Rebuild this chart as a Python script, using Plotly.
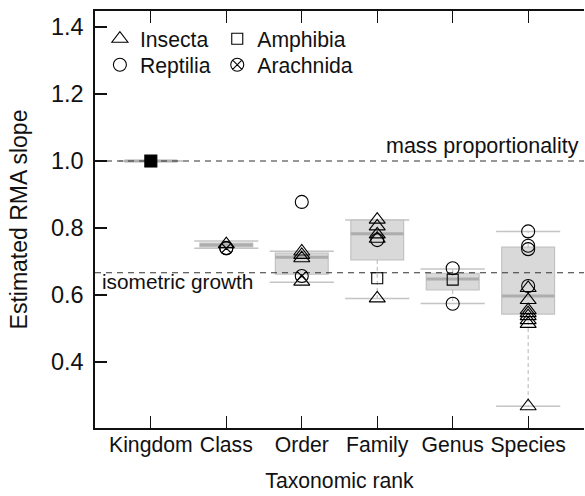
import plotly.graph_objects as go

# ---------------- data ----------------
ranks = ["Kingdom", "Class", "Order", "Family", "Genus", "Species"]

# box statistics per rank
whisker_low = [1.000, 0.740, 0.638, 0.590, 0.575, 0.268]
box_q1 = [1.000, 0.744, 0.662, 0.705, 0.615, 0.543]
box_median = [1.000, 0.749, 0.713, 0.783, 0.648, 0.597]
box_q3 = [1.000, 0.755, 0.725, 0.824, 0.665, 0.743]
whisker_high = [1.000, 0.761, 0.731, 0.824, 0.678, 0.790]

# individual estimates by class
kingdom_ranks = ["Kingdom"]
kingdom_slopes = [1.0]

insecta_ranks = ["Class", "Order", "Order", "Order", "Order",
                 "Family", "Family", "Family", "Family", "Family",
                 "Species", "Species", "Species", "Species", "Species",
                 "Species", "Species", "Species"]
insecta_slopes = [0.752, 0.730, 0.720, 0.710, 0.640,
                  0.825, 0.805, 0.781, 0.768, 0.590,
                  0.621, 0.585, 0.555, 0.546, 0.537,
                  0.525, 0.514, 0.268]

reptilia_ranks = ["Class", "Order", "Family", "Genus", "Genus",
                  "Species", "Species", "Species", "Species"]
reptilia_slopes = [0.740, 0.878, 0.764, 0.680, 0.574,
                   0.790, 0.747, 0.737, 0.627]

amphibia_ranks = ["Family", "Genus"]
amphibia_slopes = [0.650, 0.646]

arachnida_ranks = ["Class", "Order"]
arachnida_slopes = [0.740, 0.657]

ref_mass = 1.0
ref_iso = 2.0 / 3.0

# ---------------- styling ----------------
FONT = "Liberation Sans, Arial, Helvetica, sans-serif"
FS = 21.2
TXT = "#111111"
X_RANGE = [0.26, 6.74]
Y_RANGE = [0.203, 1.448]
BOX_W = 0.70
STAPLE_W = 0.85

pos = {r: i + 1 for i, r in enumerate(ranks)}
xs = [pos[r] for r in ranks]

fig = go.Figure()

# boxes
fig.add_trace(go.Box(
    x=xs, q1=box_q1, median=box_median, q3=box_q3,
    lowerfence=box_q1, upperfence=box_q3,
    width=BOX_W, whiskerwidth=0, boxpoints=False,
    fillcolor="#d9d9d9", line=dict(color="#c2c2c2", width=1.2),
    showlegend=False, hoverinfo="skip"))

# whiskers (dashed)
wx, wy = [], []
for x, lo, q1, q3, hi in zip(xs, whisker_low, box_q1, box_q3, whisker_high):
    wx += [x, x, None, x, x, None]
    wy += [q3, hi, None, q1, lo, None]
fig.add_trace(go.Scatter(x=wx, y=wy, mode="lines",
                         line=dict(color="#b5b5b5", width=1, dash="4px,3px"),
                         showlegend=False, hoverinfo="skip"))

# staples
sx, sy = [], []
for x, lo, hi in zip(xs, whisker_low, whisker_high):
    sx += [x - STAPLE_W / 2, x + STAPLE_W / 2, None, x - STAPLE_W / 2, x + STAPLE_W / 2, None]
    sy += [hi, hi, None, lo, lo, None]
fig.add_trace(go.Scatter(x=sx, y=sy, mode="lines",
                         line=dict(color="#c4c4c4", width=1.5),
                         showlegend=False, hoverinfo="skip"))

# medians
mx, my = [], []
for x, m in zip(xs, box_median):
    mx += [x - BOX_W / 2, x + BOX_W / 2, None]
    my += [m, m, None]
fig.add_trace(go.Scatter(x=mx, y=my, mode="lines",
                         line=dict(color="#adadad", width=3),
                         showlegend=False, hoverinfo="skip"))

# reference lines
for yv in (ref_mass, ref_iso):
    fig.add_trace(go.Scatter(x=X_RANGE, y=[yv, yv], mode="lines",
                             line=dict(color="#333333", width=1.1, dash="6px,5px"),
                             showlegend=False, hoverinfo="skip"))

MLINE = dict(color="black", width=1.1)


def pts(rk, vals, name, symbol, size, legend, show=True, color="black"):
    fig.add_trace(go.Scatter(
        x=[pos[r] for r in rk], y=vals, mode="markers", name=name,
        marker=dict(symbol=symbol, size=size, color=color, line=MLINE),
        legend=legend, showlegend=show, hoverinfo="skip"))


pts(kingdom_ranks, kingdom_slopes, "Animalia", "square", 12, "legend", show=False)
pts(insecta_ranks, insecta_slopes, "Insecta", "triangle-up-open", 14, "legend")
pts(reptilia_ranks, reptilia_slopes, "Reptilia", "circle-open", 13, "legend2")
pts(amphibia_ranks, amphibia_slopes, "Amphibia", "square-open", 11, "legend3")
pts(arachnida_ranks, arachnida_slopes, "Arachnida", "circle-x-open", 13, "legend4")

axis_common = dict(showgrid=False, zeroline=False, showline=True, linecolor=TXT,
                   linewidth=1.6, ticks="inside", ticklen=12, tickwidth=1.2,
                   tickcolor=TXT)


def leg(x, y):
    return dict(x=x, y=y, xanchor="left", yanchor="middle", bgcolor="rgba(0,0,0,0)",
                font=dict(family=FONT, size=FS, color=TXT), itemclick=False,
                itemdoubleclick=False)


fig.update_layout(
    width=585, height=496,
    margin=dict(l=95, r=1, t=11, b=68),
    plot_bgcolor="white", paper_bgcolor="white",
    font=dict(family=FONT, size=FS, color=TXT),
    xaxis=dict(range=X_RANGE, tickvals=xs, ticktext=ranks, mirror="ticks",
               ticklabelstandoff=-3,
               tickfont=dict(family=FONT, size=FS, color=TXT),
               title=dict(text="Taxonomic rank", standoff=17,
                          font=dict(family=FONT, size=FS, color=TXT)),
               **axis_common),
    yaxis=dict(range=Y_RANGE, tickvals=[0.4, 0.6, 0.8, 1.0, 1.2, 1.4], tickformat=".1f",
               mirror=False, ticklabelstandoff=5,
               tickfont=dict(family=FONT, size=23.5, color=TXT),
               title=dict(text="Estimated RMA slope", standoff=17,
                          font=dict(family=FONT, size=23, color=TXT)),
               **axis_common),
    legend=leg(0.010, 0.9329),
    legend2=leg(0.010, 0.8705),
    legend3=leg(0.250, 0.9329),
    legend4=leg(0.250, 0.8705),
    annotations=[
        dict(text="mass proportionality", x=0.994, xref="paper", y=1.045, yref="y",
             xanchor="right", yanchor="middle", showarrow=False,
             font=dict(family=FONT, size=21.5, color=TXT)),
        dict(text="isometric growth", x=0.010, xref="paper", y=0.639, yref="y",
             xanchor="left", yanchor="middle", showarrow=False,
             font=dict(family=FONT, size=20.8, color=TXT)),
    ],
)

fig.write_html("out.html",
               config={"displayModeBar": False, "staticPlot": True},
               post_script="document.body.style.margin='0px';"
                           "document.body.style.overflow='hidden';")
